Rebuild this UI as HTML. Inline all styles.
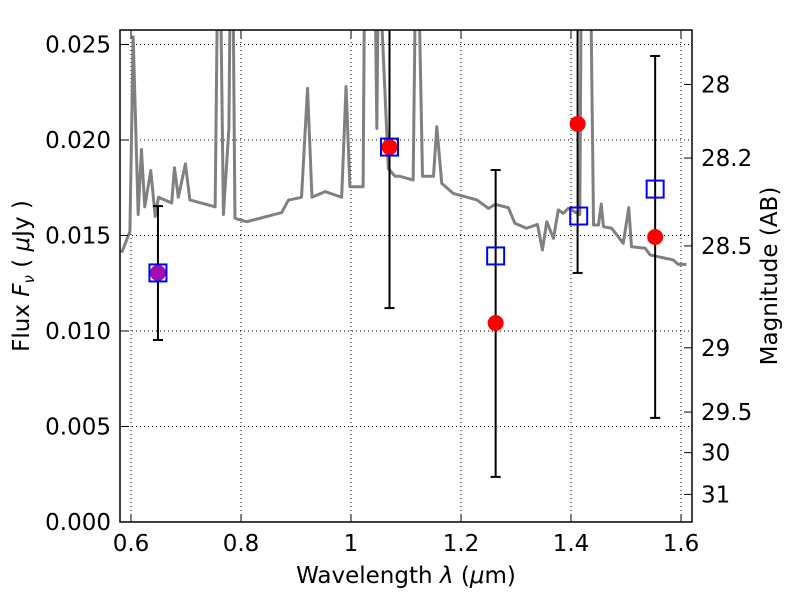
<!DOCTYPE html>
<html><head><meta charset="utf-8">
<style>
body{margin:0;background:#fff;}
svg text{font-family:"DejaVu Sans","Liberation Sans",sans-serif;}
</style></head>
<body>
<svg id="chart" width="800" height="600" xmlns="http://www.w3.org/2000/svg"></svg>
<script>
const specWave=[0.583,0.598,0.604,0.613,0.619,0.625,0.636,0.644,0.650,0.674,0.679,0.686,0.699,0.707,0.753,0.758,0.762,0.768,0.778,0.781,0.785,0.789,0.810,0.874,0.886,0.910,0.921,0.929,0.953,0.983,0.991,0.998,1.022,1.025,1.043,1.047,1.050,1.068,1.080,1.089,1.113,1.118,1.122,1.130,1.150,1.156,1.165,1.186,1.229,1.250,1.262,1.286,1.298,1.319,1.339,1.348,1.356,1.368,1.377,1.386,1.395,1.416,1.419,1.435,1.441,1.450,1.455,1.459,1.474,1.495,1.505,1.510,1.535,1.544,1.586,1.595,1.610];
const specFlux=[0.0141,0.0152,0.0254,0.0161,0.0195,0.0165,0.0184,0.0160,0.0170,0.0167,0.01855,0.0170,0.01875,0.01686,0.0165,0.030,0.030,0.0161,0.0206,0.030,0.030,0.0159,0.01572,0.0162,0.01685,0.0170,0.0227,0.0170,0.0173,0.0170,0.0228,0.01755,0.01755,0.030,0.030,0.0206,0.030,0.0185,0.0181,0.0181,0.0179,0.030,0.030,0.0181,0.0181,0.0207,0.01773,0.0172,0.01686,0.01642,0.01663,0.01646,0.01564,0.01538,0.01558,0.01424,0.01572,0.01485,0.01634,0.01616,0.01642,0.0161,0.030,0.030,0.01555,0.01555,0.01665,0.01546,0.01538,0.01459,0.01646,0.01441,0.01433,0.01398,0.01372,0.01349,0.01349];
const sqWave=[0.649,1.070,1.263,1.414,1.553];
const sqFlux=[0.01304,0.01963,0.01393,0.01602,0.01743];
const obsWave=[0.649,1.070,1.263,1.412,1.553];
const obsFlux=[0.01304,0.01963,0.01042,0.02084,0.01492];
const errLo=[0.00953,0.0112,0.00236,0.01304,0.00545];
const errHi=[0.01654,0.030,0.01843,0.030,0.0244];
const xTicks=[0.6,0.8,1.0,1.2,1.4,1.6];
const xTickLabels=["0.6","0.8","1","1.2","1.4","1.6"];
const yTicks=[0,0.005,0.010,0.015,0.020,0.025];
const yTickLabels=["0.000","0.005","0.010","0.015","0.020","0.025"];
const magTicks=[28,28.2,28.5,29,29.5,30,31];
const magTickLabels=["28","28.2","28.5","29","29.5","30","31"];

const L=120,R=692,T=30,B=522;
const X=w=>131+(w-0.6)*550;
const Y=f=>522-f*19100;
const magY=m=>Y(Math.pow(10,(23.9-m)/2.5));
const svg=document.getElementById('chart');
const NS="http://www.w3.org/2000/svg";
function mk(tag,attrs,parent){const e=document.createElementNS(NS,tag);for(const k in attrs)e.setAttribute(k,attrs[k]);(parent||svg).appendChild(e);return e;}

const defs=mk('defs',{});
const cp=mk('clipPath',{id:'clip'},defs);
mk('rect',{x:L,y:T,width:R-L,height:B-T},cp);

xTicks.forEach((t,i)=>{const g=mk('line',{x1:X(t),x2:X(t),y1:T,y2:B,stroke:'#000','stroke-width':1,'stroke-dasharray':'1,3'});
});
yTicks.forEach(t=>{const g=mk('line',{x1:L,x2:R,y1:Y(t),y2:Y(t),stroke:'#000','stroke-width':1,'stroke-dasharray':'1,3'});
});

const plot=mk('g',{'clip-path':'url(#clip)'});


const sp=mk('polyline',{points:specWave.map((w,i)=>X(w)+','+Y(specFlux[i])).join(' '),fill:'none',stroke:'#808080','stroke-width':3,'stroke-linejoin':'round'},plot);



obsWave.forEach((w,i)=>{const g=mk('g',{},plot);


mk('line',{x1:X(w),x2:X(w),y1:Y(errHi[i]),y2:Y(errLo[i]),stroke:'#000','stroke-width':2},g);
mk('line',{x1:X(w)-5,x2:X(w)+5,y1:Y(errHi[i]),y2:Y(errHi[i]),stroke:'#000','stroke-width':2},g);
mk('line',{x1:X(w)-5,x2:X(w)+5,y1:Y(errLo[i]),y2:Y(errLo[i]),stroke:'#000','stroke-width':2},g);});

obsWave.forEach((w,i)=>{const c=mk('circle',{cx:X(w),cy:Y(obsFlux[i]),r:8,fill:i===0?'#a010b0':'#ff0000'},plot);

});
sqWave.forEach((w,i)=>{const s=mk('rect',{x:X(w)-8.5,y:Y(sqFlux[i])-8.5,width:17,height:17,fill:'none',stroke:'#0000ff','stroke-width':2},plot);

});

const fr=mk('rect',{x:L,y:T,width:R-L,height:B-T,fill:'none',stroke:'#000','stroke-width':1.5});


xTicks.forEach((t,i)=>{mk('line',{x1:X(t),x2:X(t),y1:B,y2:B-8,stroke:'#000'});mk('line',{x1:X(t),x2:X(t),y1:T,y2:T+8,stroke:'#000'});
const tx=mk('text',{x:X(t),y:B+29,'font-size':23,'text-anchor':'middle'});tx.textContent=xTickLabels[i];
});
yTicks.forEach((t,i)=>{mk('line',{x1:L,x2:L+8,y1:Y(t),y2:Y(t),stroke:'#000'});
const tx=mk('text',{x:L-9,y:Y(t)+8,'font-size':23,'text-anchor':'end'});tx.textContent=yTickLabels[i];
});
magTicks.forEach((m,i)=>{const y=magY(m);mk('line',{x1:R,x2:R-8,y1:y,y2:y,stroke:'#000'});
const tx=mk('text',{x:R+9,y:y+8,'font-size':23});tx.textContent=magTickLabels[i];
});

const xt=mk('text',{x:406,y:583,'font-size':23,'text-anchor':'middle','xml:space':'preserve'});
xt.innerHTML='Wavelength  <tspan font-style="italic">λ</tspan> (<tspan font-style="italic">μ</tspan>m)';

const yt=mk('text',{x:0,y:0,'font-size':23,'text-anchor':'middle',transform:'translate(29,276) rotate(-90)'});
yt.innerHTML='Flux  <tspan font-style="italic">F</tspan><tspan font-style="italic" font-size="15" dy="5">ν</tspan><tspan dy="-5">   (  </tspan><tspan font-style="italic">μ</tspan>Jy )';

const rt=mk('text',{x:0,y:0,'font-size':23,'text-anchor':'middle',transform:'translate(777,276) rotate(-90)'});
rt.textContent='Magnitude (AB)';

</script>
</body></html>
